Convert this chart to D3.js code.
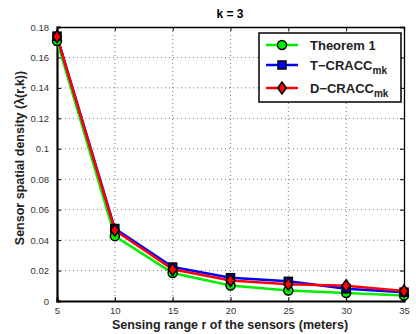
<!DOCTYPE html>
<html>
<head>
<meta charset="utf-8">
<script src="https://cdn.jsdelivr.net/npm/d3@7"></script>
<style>
body { margin: 0; background: #fff; }
text { font-family: "Liberation Sans", Arial, sans-serif; }
</style>
</head>
<body>
<script>
var ranges = [5, 10, 15, 20, 25, 30, 35];
var theorem1 = [0.1708, 0.0426, 0.0184, 0.0102, 0.0069, 0.0052, 0.0036];
var tCracc = [0.1740, 0.0476, 0.0223, 0.0153, 0.0129, 0.0080, 0.0058];
var dCracc = [0.1737, 0.0465, 0.0208, 0.0135, 0.0110, 0.0100, 0.0065];
var seriesNames = ["Theorem 1", "T\u2212CRACC", "D\u2212CRACC"];
var xTicks = [5, 10, 15, 20, 25, 30, 35];
var yTicks = [0, 0.02, 0.04, 0.06, 0.08, 0.1, 0.12, 0.14, 0.16, 0.18];

var svg = d3.select("body").append("svg")
    .attr("width", 416)
    .attr("height", 334);

var margin = { top: 27, right: 12, bottom: 33, left: 57 },
    width = 416 - margin.left - margin.right,
    height = 334 - margin.top - margin.bottom,
    g = svg.append("g").attr("transform", "translate(" + margin.left + "," + margin.top + ")");

var x = d3.scaleLinear().domain([5, 35]).range([0, width]);
var y = d3.scaleLinear().domain([0, 0.18]).range([height, 0]);

// grid
g.append("g").selectAll("line")
    .data(xTicks.slice(1, -1))
    .enter().append("line")
    .attr("x1", x).attr("x2", x)
    .attr("y1", 0).attr("y2", height)
    .attr("stroke", "#555").attr("stroke-width", 0.8)
    .attr("stroke-dasharray", "1,3");
g.append("g").selectAll("line")
    .data(yTicks.slice(1, -1))
    .enter().append("line")
    .attr("y1", y).attr("y2", y)
    .attr("x1", 0).attr("x2", width)
    .attr("stroke", "#555").attr("stroke-width", 0.8)
    .attr("stroke-dasharray", "1,3");

// axes, ticks inward
var xAxis = g.append("g")
    .attr("transform", "translate(0," + height + ")")
    .call(d3.axisBottom(x).tickValues(xTicks).tickSize(-4).tickPadding(6).tickFormat(d3.format("d")));
var yAxis = g.append("g")
    .call(d3.axisLeft(y).tickValues(yTicks).tickSize(-4).tickPadding(8).tickFormat(function (d) { return d === 0 ? "0" : d3.format(".2~f")(d); }));
g.append("g")
    .call(d3.axisTop(x).tickValues(xTicks).tickSize(-4).tickFormat(""));
g.append("g")
    .attr("transform", "translate(" + width + ",0)")
    .call(d3.axisRight(y).tickValues(yTicks).tickSize(-4).tickFormat(""));

g.selectAll(".domain").attr("stroke", "#000").attr("stroke-width", 1.3);
xAxis.select(".domain").attr("stroke-width", 2.2);
yAxis.select(".domain").attr("stroke-width", 2.2);
g.selectAll(".tick text").attr("fill", "#333").style("font-size", "9.5px");

var colors = ["#00ee00", "#0000ff", "#ff0000"];
var all = [theorem1, tCracc, dCracc];

var line = d3.line()
    .x(function (d, i) { return x(ranges[i]); })
    .y(function (d) { return y(d); });

all.forEach(function (vals, s) {
    g.append("path")
        .datum(vals)
        .attr("fill", "none")
        .attr("stroke", colors[s])
        .attr("stroke-width", 2.5)
        .attr("d", line);
});

function marker(sel, s) {
    if (s === 0) {
        sel.append("circle").attr("r", 4.5);
    } else if (s === 1) {
        sel.append("rect").attr("x", -4).attr("y", -4).attr("width", 8).attr("height", 8);
    } else {
        sel.append("path").attr("d", "M0,-6L4.3,0L0,6L-4.3,0Z");
    }
    sel.selectAll("*").attr("fill", colors[s]).attr("stroke", "#000").attr("stroke-width", 1.5);
}

all.forEach(function (vals, s) {
    vals.forEach(function (v, i) {
        var m = g.append("g").attr("transform", "translate(" + x(ranges[i]) + "," + y(v) + ")");
        marker(m, s);
    });
});

// title & labels
svg.append("text")
    .attr("x", 230).attr("y", 18)
    .style("text-anchor", "middle")
    .style("font-weight", "bold").style("font-size", "12px")
    .text("k = 3");

svg.append("text")
    .attr("x", 230).attr("y", 329)
    .style("text-anchor", "middle")
    .style("font-weight", "bold").style("font-size", "12.5px")
    .attr("fill", "#222")
    .text("Sensing range r of the sensors (meters)");

svg.append("text")
    .attr("transform", "translate(24,158) rotate(-90)")
    .style("text-anchor", "middle")
    .style("font-weight", "bold").style("font-size", "12.5px")
    .attr("fill", "#222")
    .text("Sensor spatial density (\u03bb(r,k))");

// legend
var legend = svg.append("g").attr("transform", "translate(259,33)");
legend.append("rect")
    .attr("width", 142).attr("height", 69)
    .attr("fill", "#fff").attr("stroke", "#000").attr("stroke-width", 1.5);

var rows = legend.selectAll(".row")
    .data(seriesNames)
    .enter().append("g")
    .attr("class", "row")
    .attr("transform", function (d, i) { return "translate(0," + [12, 32, 55][i] + ")"; });

rows.append("line")
    .attr("x1", 7).attr("x2", 39)
    .attr("stroke", function (d, i) { return colors[i]; })
    .attr("stroke-width", 2.5);
rows.each(function (d, i) {
    var m = d3.select(this).append("g").attr("transform", "translate(23,0)");
    marker(m, i);
});

var txt = rows.append("text")
    .attr("x", 51).attr("dy", "0.36em")
    .style("font-weight", "bold").style("font-size", "13px")
    .attr("fill", "#222")
    .text(function (d) { return d; });
txt.filter(function (d, i) { return i > 0; })
    .append("tspan")
    .attr("dy", "4")
    .style("font-size", "10px")
    .text("mk");
</script>
</body>
</html>
